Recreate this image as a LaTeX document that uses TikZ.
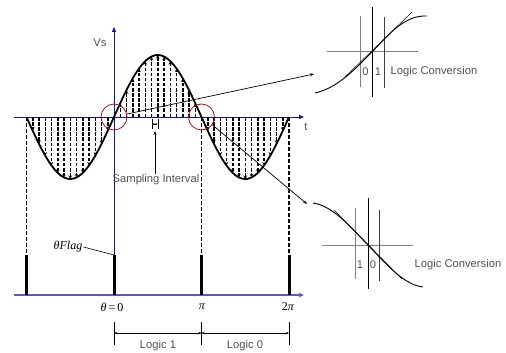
\documentclass[tikz,border=0pt]{standalone}
\usepackage{fontspec}
\setmainfont{Liberation Sans}
\newfontfamily\serifit[ItalicFont={Liberation Serif Italic}]{Liberation Serif}
\usetikzlibrary{arrows.meta}
\definecolor{axblue}{RGB}{20,20,140}
\definecolor{axblue2}{RGB}{90,90,180}
\definecolor{txtgray}{RGB}{80,80,80}
\definecolor{cred}{RGB}{170,20,20}
\begin{document}
\begin{tikzpicture}[x=1pt,y=-1pt,
  axis/.style={axblue,line width=0.8pt,-{Triangle[length=5pt,width=4pt]}},
  wavearrow/.style={line width=1.5pt,dash pattern=on 3.5pt off 1.6pt,-{Stealth[length=3.5pt,width=3.5pt]}},
  bound/.style={line width=1.5pt,dash pattern=on 4pt off 2pt},
  bar/.style={line width=3pt},
  ring/.style={circle,draw=cred,line width=0.8pt,minimum size=26pt,inner sep=0pt},
  lbl/.style={font=\fontsize{11.2}{13}\selectfont,text=txtgray,inner sep=1pt},
  mlbl/.style={font=\serifit\fontsize{12}{14}\selectfont,inner sep=1pt},
  conn/.style={line width=0.7pt,-{Stealth[length=4pt,width=3pt]}},
  gline/.style={gray,line width=1pt},
  kline/.style={black,line width=0.8pt},
  dline/.style={black!75,line width=0.9pt}]
\useasboundingbox (0,0) rectangle (506,353);
% axes
\coordinate (tO) at (14,117); \coordinate (tE) at (304,117);
\coordinate (bO) at (14,295); \coordinate (bE) at (304,295);
\coordinate (vO) at (114,255); \coordinate (vE) at (114,27);
\draw[axis] (tO) -- (tE);
\draw[axis,axblue2,line width=1.1pt] (bO) -- (bE);
\draw[axis] (vO) -- (vE);
\node[lbl] (vs) at (100,43) {Vs};
\node[lbl] (t) at (306,127) {t};
% boundary dashed lines and bars
\foreach \xx/\nm in {26.5/a,201.5/b,289/c}{
  \coordinate (top\nm) at (\xx,117);
  \coordinate (mid\nm) at (\xx,255);
  \coordinate (bot\nm) at (\xx,295);
  \draw[bound] (top\nm) -- (mid\nm);
  \draw[bar] (mid\nm) -- (bot\nm);
}
\coordinate (midz) at (114,255); \coordinate (botz) at (114,295);
\draw[bar] (midz) -- (botz);
% wave arrows
\foreach \base in {26.5,114,201.5}{
  \foreach \k in {1,...,13}{
    \pgfmathsetmacro\xx{\base+6.25*\k}
    \pgfmathsetmacro\yy{117-62*sin((\xx-114)*2.05714)}
    \draw[wavearrow] (\xx,117) -- (\xx,\yy);
  }
}
% wave
\draw[line width=1.8pt] plot[domain=26.5:289, samples=120, smooth] (\x,{117-62*sin((\x-114)*2.05714)});
% circles
\node[ring] (c1) at (114,117) {};
\node[ring] (c2) at (201.5,117) {};
% sampling interval
\draw[line width=0.5pt] (152,119) -- (152,129) (158,119) -- (158,129);
\draw[line width=0.5pt,{Stealth[length=2pt,width=2pt]}-{Stealth[length=2pt,width=2pt]}] (152.5,124) -- (157.5,124);
\node[lbl] (si) at (156,180) {Sampling Interval};
\coordinate (siT) at (155,131);
\draw[line width=0.7pt,-{Stealth[length=4pt,width=3pt]}] (si.north -| siT) -- (siT);
% upper logic conversion
\draw[gline] (327,52) -- (418,52);
\draw[gline] (360,16) -- (360,87);
\draw[kline] (372,7) -- (372,97);
\draw[dline] (384,17) -- (384,88);
\draw[line width=0.9pt] (315,93) .. controls (338,88) and (356,68) .. (372,52) .. controls (390,33) and (405,15) .. (427,16);
\draw[line width=0.5pt] (345,77) -- (412,12);
\node[lbl] (u0) at (365.5,72) {0};
\node[lbl] (u1) at (378,72) {1};
\node[lbl] (ulc) at (434,72) {Logic Conversion};
\coordinate (e1) at (314,74);
\draw[conn] (c1.13) -- (e1);
% lower logic conversion
\draw[gline] (322,245) -- (413,245);
\draw[gline] (355,208) -- (355,279);
\draw[kline] (368,198) -- (368,289);
\draw[dline] (379,210) -- (379,281);
\draw[line width=0.9pt] (313,203) .. controls (334,206) and (352,229) .. (368,245) .. controls (386,264) and (404,285) .. (423,287);
\draw[line width=0.5pt] (334,210) -- (402,279);
\node[lbl] (l1) at (360,265) {1};
\node[lbl] (l0) at (373,265) {0};
\node[lbl] (llc) at (458,265) {Logic Conversion};
\coordinate (e2) at (307,204);
\draw[conn] (c2.-36) -- (e2);
% theta flag
\node[mlbl] (flag) at (68,247) {\itshape θFlag};
\draw[line width=0.6pt] (flag.east) -- (midz);
% angle labels
\node[mlbl] (th0) at (112,307) {\itshape θ\upshape\,=\,0};
\node[mlbl] (pi1) at (202,307) {\itshape π};
\node[mlbl] (pi2) at (288,307) {2\itshape π};
% logic intervals
\foreach \xx/\nm in {114/p,201.5/q,289/r}{
  \coordinate (d\nm) at (\xx,322); \coordinate (u\nm) at (\xx,345);
  \draw[line width=0.6pt] (d\nm) -- (u\nm);
}
\coordinate (hp) at (114,333); \coordinate (hq) at (201.5,333); \coordinate (hr) at (289,333);
\draw[line width=0.6pt,{Stealth[length=3pt,width=2.5pt]}-{Stealth[length=3pt,width=2.5pt]}] (hp) -- (hq);
\draw[line width=0.6pt,{Stealth[length=3pt,width=2.5pt]}-{Stealth[length=3pt,width=2.5pt]}] (hq) -- (hr);
\node[lbl] (lg1) at (158,346) {Logic 1};
\node[lbl] (lg0) at (245,346) {Logic 0};
\end{tikzpicture}
\end{document}
